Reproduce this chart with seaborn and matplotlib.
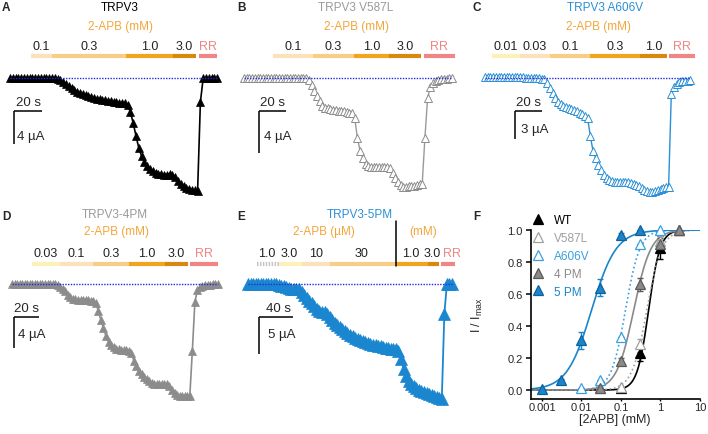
import numpy as np
import matplotlib
matplotlib.use("Agg")
import matplotlib.pyplot as plt
import seaborn as sns
from matplotlib.lines import Line2D

# ---- whole-cell currents (µA), one value per sample ----
trpv3_wt = [0.0, 0.0, 0.0, 0.0, 0.0, 0.0, 0.0, 0.0, 0.0, 0.0, 0.0, 0.0, 0.0, 0.0, 0.0, 0.0, 0.0,
            -0.12, -0.30, -0.54, -0.78, -1.02, -1.20, -1.45, -1.63, -1.81, -1.93, -2.05, -2.17,
            -2.29, -2.41, -2.47, -2.59, -2.65, -2.71, -2.77, -2.83, -2.89, -2.95, -3.01, -3.01,
            -3.07, -3.25, -4.10, -5.42, -6.99, -8.43, -9.40, -10.12, -10.60, -10.96, -11.20,
            -11.39, -11.51, -11.57, -11.63, -11.63, -11.57, -11.63, -11.93, -12.41, -12.77,
            -13.07, -13.25, -13.37, -13.49, -13.55, -13.61, -2.89, 0.0, 0.0, 0.0, 0.0, 0.0, 0.0]
trpv3_v587l = [0.0, 0.0, 0.0, 0.0, 0.0, 0.0, 0.0, 0.0, 0.0, 0.0, 0.0, 0.0, 0.0, 0.0, 0.0, 0.0,
               0.0, 0.0, 0.0, 0.0, 0.0, 0.0, 0.0, 0.0, -0.19, -0.67, -1.24, -1.71, -2.19, -2.67,
               -2.86, -2.90, -2.95, -3.00, -3.05, -3.10, -3.14, -3.19, -3.24, -3.33, -3.38, -3.81,
               -5.71, -6.95, -7.62, -8.19, -8.38, -8.43, -8.48, -8.48, -8.48, -8.48, -8.48, -8.48,
               -8.57, -9.05, -9.52, -9.90, -10.19, -10.38, -10.38, -10.33, -10.29, -10.24, -10.19,
               -10.14, -10.10, -5.71, -1.90, -0.86, -0.48, -0.29, -0.19, -0.14, -0.10, -0.05, 0.0, 0.0]
trpv3_a606v = [0.16, 0.16, 0.16, 0.16, 0.16, 0.16, 0.16, 0.16, 0.16, 0.16, 0.16, 0.16, 0.13, 0.11,
               0.09, 0.05, 0.03, 0.0, 0.0, -0.03, -0.05, -0.09, -0.16, -0.54, -1.09, -1.63, -2.17,
               -2.61, -2.88, -3.04, -3.15, -3.26, -3.37, -3.48, -3.59, -3.75, -3.91, -4.13, -4.35,
               -6.30, -7.93, -8.70, -9.46, -10.00, -10.54, -10.87, -11.09, -11.20, -11.30, -11.30,
               -11.30, -11.30, -11.30, -11.30, -11.36, -11.47, -11.63, -11.74, -11.96, -12.17,
               -12.28, -12.39, -12.39, -12.28, -12.17, -12.07, -11.96, -11.85, -11.85, -1.74, -0.98,
               -0.65, -0.43, -0.38, -0.33, -0.33, -0.22]
trpv3_4pm = [0.0, 0.0, 0.0, 0.0, 0.0, 0.0, 0.0, 0.0, 0.0, 0.0, 0.0, 0.0, 0.0, 0.0, 0.0, 0.0, 0.0,
             0.0, -0.13, -0.39, -0.65, -0.91, -1.43, -1.75, -1.95, -2.01, -2.08, -2.08, -2.08,
             -2.14, -2.14, -2.21, -2.27, -2.47, -3.51, -4.68, -5.71, -6.75, -7.53, -7.92, -8.18,
             -8.38, -8.44, -8.51, -8.57, -8.57, -8.64, -8.96, -10.00, -10.65, -11.30, -11.69,
             -12.08, -12.34, -12.66, -12.86, -12.99, -12.99, -12.99, -12.99, -12.99, -13.05,
             -13.31, -13.77, -14.16, -14.42, -14.55, -14.55, -14.55, -14.55, -14.55, -8.70, -2.34,
             -0.78, -0.39, -0.26, -0.19, -0.13, -0.13, -0.06, -0.06, -0.06]
trpv3_5pm = [0.0, 0.0, 0.0, 0.0, 0.0, 0.0, 0.0, 0.0, 0.0, 0.0, 0.0, 0.0, -0.07, -0.21, -0.34,
             -0.41, -0.55, -0.62, -0.68, -0.68, -0.75, -1.10, -1.51, -1.92, -2.33, -2.60, -3.01,
             -3.42, -3.70, -3.77, -3.84, -4.11, -4.52, -4.93, -5.34, -5.62, -5.89, -6.16, -6.44,
             -6.71, -6.92, -7.12, -7.33, -7.53, -7.67, -7.81, -7.95, -8.08, -8.22, -8.36, -8.42,
             -8.49, -8.56, -8.63, -8.70, -8.77, -8.84, -8.90, -8.97, -9.18, -10.27, -11.64, -12.60,
             -13.29, -13.70, -14.04, -14.25, -14.52, -14.66, -14.79, -14.93, -15.07, -15.21,
             -15.34, -15.48, -15.62, -15.75, -4.11, 0.0, 0.0, 0.0]

# sampling interval of each recording (s)
dt_wt, dt_v587l, dt_a606v, dt_4pm, dt_5pm = 2.0, 2.0, 2.0, 2.0, 3.0

# 2-APB applications: labels and switch times (s from trace start), then ruthenium red
conc_wt = ['0.1', '0.3', '1.0', '3.0']
edges_wt = [15, 30, 82.9, 116.4, 132.9]
rr_wt = [135, 147.9]
conc_v587l = ['0.1', '0.3', '1.0', '3.0']
edges_v587l = [21.5, 51.1, 81.5, 107.4, 131.1]
rr_v587l = [133.3, 156.3]
conc_a606v = ['0.01', '0.03', '0.1', '0.3', '1.0']
edges_a606v = [5.2, 25.9, 48.1, 77.8, 114.8, 134.8]
rr_a606v = [136.3, 155.6]
conc_4pm = ['0.03', '0.1', '0.3', '1.0', '3.0']
edges_4pm = [15.7, 37.8, 63.8, 92.1, 120.5, 138.6]
rr_4pm = [140.2, 162.2]
conc_5pm = ['1.0', '3.0', '10', '30', '1.0', '3.0']
edges_5pm = [10.6, 36.5, 63.5, 96.5, 174.1, 211.8, 224.7]
rr_5pm = [227.1, 243.5]

# dose-response (panel F), concentrations in mM
dr_labels = ['WT', 'V587L', 'A606V', '4 PM', '5 PM']
wt_x = [0.1, 0.3, 1.0, 3.0]
wt_y = [0.01, 0.23, 0.89, 1.0]
wt_err = [0.0, 0.05, 0.07, 0.0]
v587l_x = [0.03, 0.1, 0.3, 1.0, 3.0]
v587l_y = [0.01, 0.02, 0.29, 0.93, 1.0]
v587l_err = [0.0, 0.0, 0.03, 0.03, 0.0]
a606v_x = [0.01, 0.03, 0.1, 0.3, 1.0]
a606v_y = [0.01, 0.065, 0.33, 0.915, 1.0]
a606v_err = [0.0, 0.0, 0.0, 0.0, 0.0]
pm4_x = [0.03, 0.1, 0.3, 1.0, 3.0]
pm4_y = [0.01, 0.18, 0.66, 0.91, 1.0]
pm4_err = [0.0, 0.02, 0.04, 0.04, 0.0]
pm5_x = [0.001, 0.003, 0.01, 0.03, 0.1, 0.3]
pm5_y = [0.005, 0.06, 0.31, 0.64, 0.97, 1.0]
pm5_err = [0.0, 0.01, 0.055, 0.055, 0.01, 0.0]
# Hill fits
ec50 = [0.50, 0.45, 0.13, 0.21, 0.018]
nhill = [3.0, 2.3, 2.4, 2.0, 1.4]

sns.set_theme(style="ticks")
plt.rcParams["font.family"] = ["Liberation Sans", "DejaVu Sans"]
plt.rcParams["mathtext.fontset"] = "custom"
plt.rcParams["mathtext.rm"] = "Liberation Sans"
plt.rcParams["mathtext.default"] = "regular"

W, H = 708, 435
fig = plt.figure(figsize=(W / 100, H / 100), dpi=100)

ORANGE = "#F4A53A"
RR_COL = "#F08585"
BAR_COLS = ["#FCF1B8", "#FBE2BA", "#F8CD85", "#F2A31F", "#D9880F"]
BLUE = "#2A8FD6"
GREY = "#9A9A9A"


def add_box(left, top, width, height):
    return fig.add_axes([left / W, 1 - (top + height) / H, width / W, height / H])


def trace_panel(ox, oy, h, x0, yb, pps, ppu, values, dt, style, stim, scale, texts, labx=None):
    ax = add_box(ox, oy, 236, h)
    ax.set_xlim(-x0 / pps, (236 - x0) / pps)
    ax.set_ylim(-(h - yb) / ppu, yb / ppu)
    ax.set_axis_off()
    t = np.arange(len(values)) * dt
    sns.lineplot(x=t, y=values, ax=ax, sort=False, estimator=None, marker="^", **style)
    ax.plot([t[0], t[-1]], [0, 0], ls=(0, (1, 1)), color="#2828D8", lw=1.0, zorder=5)

    # stimulus bars
    labels, edges, rr, cols, ybar, ylab = stim
    tr = ax.get_xaxis_transform()
    fb, fl = 1 - ybar / h, 1 - ylab / h
    if labx is None:
        labx = [(edges[i] + edges[i + 1]) / 2 for i in range(len(labels))] + [sum(rr) / 2]
    for i, lab in enumerate(labels):
        s, e = edges[i], edges[i + 1]
        c = cols[i]
        if c == "dots":
            ax.plot([s, e], [fb, fb], transform=tr, lw=3, color="#C4C4C4",
                    ls=(0, (0.35, 0.35)), solid_capstyle="butt", clip_on=False)
        else:
            ax.plot([s, e], [fb, fb], transform=tr, lw=3, color=c,
                    solid_capstyle="butt", clip_on=False)
        ax.text(labx[i], fl, lab, transform=tr, ha="center", va="center",
                fontsize=9, color="#222222")
    ax.plot(rr, [fb, fb], transform=tr, lw=3, color=RR_COL, solid_capstyle="butt", clip_on=False)
    ax.text(labx[-1], fl, "RR", transform=tr, ha="center", va="center", fontsize=9, color=RR_COL)

    # scale bars
    sx, sy, ls_, lu, tx_s, tx_u = scale
    ts, cs = (sx - x0) / pps, -(sy - yb) / ppu
    ax.plot([ts, ts + ls_], [cs, cs], color="black", lw=1.1, solid_capstyle="butt")
    ax.plot([ts, ts], [cs, cs - lu], color="black", lw=1.1, solid_capstyle="butt")
    ax.text(tx_s[0] / 236, 1 - tx_s[1] / h, f"{ls_:g} s", transform=ax.transAxes,
            ha="center", va="center", fontsize=9.5)
    ax.text(tx_u[0] / 236, 1 - tx_u[1] / h, f"{lu:g} µA", transform=ax.transAxes,
            ha="left", va="center", fontsize=9.5)

    for x, y, s, c in texts:
        ax.text(x / 236, 1 - y / h, s, transform=ax.transAxes, ha="center", va="center",
                fontsize=8.5, color=c)
    return ax


open_grey = dict(color="#9A9A9A", lw=1.0, markersize=6, markerfacecolor="white",
                 markeredgecolor="#8C8C8C", markeredgewidth=0.7)
open_blue = dict(color=BLUE, lw=1.0, markersize=6, markerfacecolor="white",
                 markeredgecolor=BLUE, markeredgewidth=0.7)

# A
trace_panel(0, 0, 210, 10, 79, 1.4, 8.3, trpv3_wt, dt_wt,
            dict(color="black", lw=1.2, markersize=5.5, markerfacecolor="black",
                 markeredgecolor="black", markeredgewidth=0.5),
            (conc_wt, edges_wt, rr_wt, BAR_COLS[1:], 57, 47),
            (14, 112, 20, 4, (28, 103), (17, 137)),
            [(120, 8, "TRPV3", "black"), (120, 27, "2-APB (mM)", ORANGE)])
# B
trace_panel(236, 0, 210, 8, 79, 1.35, 10.5, trpv3_v587l, dt_v587l, open_grey,
            (conc_v587l, edges_v587l, rr_v587l, BAR_COLS[1:], 57, 47),
            (23, 112, 20, 4, (37, 103), (28, 137)),
            [(120, 8, "TRPV3 V587L", GREY), (120, 27, "2-APB (mM)", ORANGE)])
# C
trace_panel(472, 0, 210, 13, 79, 1.35, 9.2, trpv3_a606v, dt_a606v, open_blue,
            (conc_a606v, edges_a606v, rr_a606v, BAR_COLS, 57, 47),
            (43, 112, 20, 3, (57, 103), (49, 130)),
            [(133, 8, "TRPV3 A606V", BLUE), (127, 27, "2-APB (mM)", ORANGE)])
# D
trace_panel(0, 215, 220, 12, 70, 1.27, 7.7, trpv3_4pm, dt_4pm,
            dict(color="#8C8C8C", lw=1.2, markersize=5.5, markerfacecolor="#8C8C8C",
                 markeredgecolor="#8C8C8C", markeredgewidth=0.5),
            (conc_4pm, edges_4pm, rr_4pm, BAR_COLS, 50, 39),
            (14, 103, 20, 4, (27, 94), (18, 120)),
            [(115, 0, "TRPV3-4PM", GREY), (117, 17, "2-APB (mM)", ORANGE)])
# E
axe = trace_panel(236, 215, 220, 12, 70, 0.85, 7.3, trpv3_5pm, dt_5pm,
                  dict(color="#1A86D0", lw=1.3, markersize=8, markerfacecolor="#1A86D0",
                       markeredgecolor="#1A86D0", markeredgewidth=0.5),
                  (conc_5pm, edges_5pm, rr_5pm, ["dots"] + BAR_COLS, 50, 39),
                  (23, 103, 40, 5, (42, 94), (32, 120)),
                  [(124, 0, "TRPV3-5PM", BLUE), (88, 17, "2-APB (µM)", ORANGE),
                   (187, 17, "(mM)", ORANGE)],
                  labx=[22.4, 48.2, 80, 134, 191.8, 216.5, 240.5])
axe.axvline(edges_5pm[4], ymin=1 - 52 / 220, ymax=1 - 7 / 220, color="black", lw=1.1, clip_on=False)

# panel letters
for s, x, y in [("A", 6, 8), ("B", 241, 8), ("C", 477, 8), ("D", 6, 217), ("E", 241, 217), ("F", 477, 217)]:
    fig.text(x / W, 1 - y / H, s, fontsize=8.5, fontweight="bold", ha="center", va="center")

# F: dose-response
axf = add_box(531, 231, 169, 169)
axf.set_xscale("log")
axf.set_xlim(0.000527, 10)
axf.set_ylim(-0.056, 1.0)
grid = np.logspace(-3.3, 1, 300)
series = [
    (wt_x, wt_y, wt_err, "black", "black", "black", "-"),
    (v587l_x, v587l_y, v587l_err, "#A0A0A0", "white", "#A0A0A0", ":"),
    (a606v_x, a606v_y, a606v_err, "#3A9FE0", "white", "#3A9FE0", ":"),
    (pm4_x, pm4_y, pm4_err, "#8A8A8A", "#8A8A8A", "#5A5A5A", "-"),
    (pm5_x, pm5_y, pm5_err, "#1A85CC", "#1A85CC", "#10609A", "-"),
]
handles = []
for k, (x, y, err, c, fc, ec, ls) in enumerate(series):
    fit = 1 / (1 + (ec50[k] / grid) ** nhill[k])
    sns.lineplot(x=grid, y=fit, ax=axf, sort=False, estimator=None, color=c, lw=1.2,
                 linestyle=ls, zorder=2)
    axf.errorbar(x, y, yerr=err, fmt="none", ecolor=ec if k in (0, 3) else c, elinewidth=1.0,
                 capsize=2.5, capthick=1.0, zorder=3)
    sns.lineplot(x=x, y=y, ax=axf, sort=False, estimator=None, linestyle="", marker="^",
                 markersize=7, markerfacecolor=fc, markeredgecolor=ec, markeredgewidth=0.9,
                 clip_on=False, zorder=4 + k * 0.1)
    handles.append(Line2D([], [], ls="", marker="^", markersize=7, markerfacecolor=fc,
                          markeredgecolor=ec, markeredgewidth=0.9))

axf.set_xticks([0.001, 0.01, 0.1, 1, 10])
axf.set_xticklabels(["0.001", "0.01", "0.1", "1", "10"])
axf.xaxis.set_minor_locator(matplotlib.ticker.NullLocator())
axf.set_yticks([0, 0.2, 0.4, 0.6, 0.8, 1.0])
axf.set_yticklabels(["0.0", "0.2", "0.4", "0.6", "0.8", "1.0"])
axf.tick_params(axis="y", direction="out", length=3.5, width=1.1, labelsize=8, color="black", pad=2.5)
axf.tick_params(axis="x", direction="out", length=1.5, width=1.0, labelsize=8, color="black", pad=0.5)
for sp in ["left", "bottom"]:
    axf.spines[sp].set_linewidth(1.2)
    axf.spines[sp].set_color("black")
sns.despine(ax=axf)
axf.set_xlabel("[2APB] (mM)", fontsize=9)
axf.set_ylabel("I / I$_{max}$", fontsize=9)
axf.xaxis.set_label_coords(0.497, -0.085)
axf.yaxis.set_label_coords(-0.27, 0.5)

leg = axf.legend(handles, dr_labels, loc="upper left", bbox_to_anchor=(532 / W, 1 - 215 / H),
                 bbox_transform=fig.transFigure, frameon=False, fontsize=8.5, handlelength=1.0,
                 handletextpad=0.9, labelspacing=0.5, borderaxespad=0, borderpad=0)
for txt, c in zip(leg.get_texts(), ["black", "#A0A0A0", "#3A9FE0", "#8A8A8A", "#1A85CC"]):
    txt.set_color(c)

fig.savefig("out.png", dpi=100)
